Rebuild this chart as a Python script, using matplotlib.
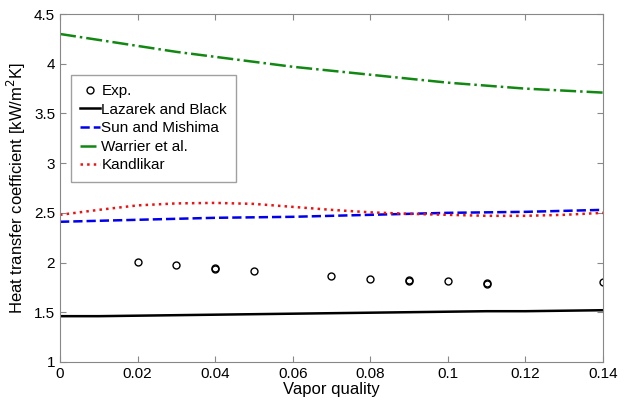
import numpy as np
import matplotlib
matplotlib.use("Agg")
import matplotlib.pyplot as plt

plt.rcParams['font.family'] = ['Liberation Sans', 'DejaVu Sans']

# experimental points
exp_x = [0.02, 0.03, 0.04, 0.04, 0.05, 0.07, 0.08, 0.09, 0.09, 0.10, 0.11, 0.11, 0.14]
exp_y = [2.01, 1.98, 1.93, 1.94, 1.91, 1.86, 1.83, 1.81, 1.82, 1.81, 1.78, 1.79, 1.80]

# correlations
x_corr = [0.0, 0.01, 0.02, 0.03, 0.04, 0.05, 0.06, 0.07, 0.08, 0.09, 0.10, 0.11, 0.12, 0.13, 0.14]
lazarek = [1.46, 1.46, 1.465, 1.47, 1.475, 1.48, 1.485, 1.49, 1.495, 1.50, 1.505, 1.51, 1.51, 1.515, 1.52]
sun = [2.41, 2.42, 2.43, 2.44, 2.45, 2.455, 2.46, 2.47, 2.48, 2.49, 2.50, 2.505, 2.51, 2.52, 2.53]
warrier = [4.30, 4.24, 4.18, 4.12, 4.07, 4.02, 3.97, 3.93, 3.89, 3.85, 3.81, 3.78, 3.75, 3.73, 3.71]
kandlikar = [2.48, 2.53, 2.575, 2.595, 2.60, 2.59, 2.56, 2.53, 2.505, 2.49, 2.48, 2.47, 2.47, 2.48, 2.50]

fig = plt.figure(figsize=(6.32, 4.15), dpi=100)
ax = fig.add_axes([0.095, 0.128, 0.859, 0.838])

ax.plot(exp_x, exp_y, 'o', mfc='none', mec='black', ms=5, mew=1, label='Exp.')
ax.plot(x_corr, lazarek, '-', color='black', lw=1.8, label='Lazarek and Black')
ax.plot(x_corr, sun, '--', color='#0000ee', lw=1.8, label='Sun and Mishima')
ax.plot(x_corr, warrier, '-.', color='#118811', lw=1.8, label='Warrier et al.')
ax.plot(x_corr, kandlikar, ':', color='#ee1111', lw=1.8, label='Kandlikar')

ax.set_xlim(0, 0.14)
ax.set_ylim(1, 4.5)
ax.set_xticks([0, 0.02, 0.04, 0.06, 0.08, 0.1, 0.12, 0.14])
ax.set_xticklabels(['0', '0.02', '0.04', '0.06', '0.08', '0.1', '0.12', '0.14'])
ax.set_yticks([1, 1.5, 2, 2.5, 3, 3.5, 4, 4.5])
ax.set_yticklabels(['1', '1.5', '2', '2.5', '3', '3.5', '4', '4.5'])
ax.tick_params(direction='in', labelsize=11, top=True, right=True, length=4, color='#888888')
for s in ax.spines.values():
    s.set_color('#888888')

ax.set_xlabel('Vapor quality', fontsize=12, labelpad=1)
ax.set_ylabel('Heat transfer coefficient [kW/m$^2$K]', fontsize=12, labelpad=4)

leg = ax.legend(loc='upper left', bbox_to_anchor=(0.02, 0.825), fontsize=11,
                frameon=True, fancybox=False, edgecolor='#888888',
                handlelength=1.3, handletextpad=0.1, borderpad=0.6, labelspacing=0.3,
                borderaxespad=0)
leg.get_frame().set_linewidth(1)

fig.savefig('out.png', dpi=100)
